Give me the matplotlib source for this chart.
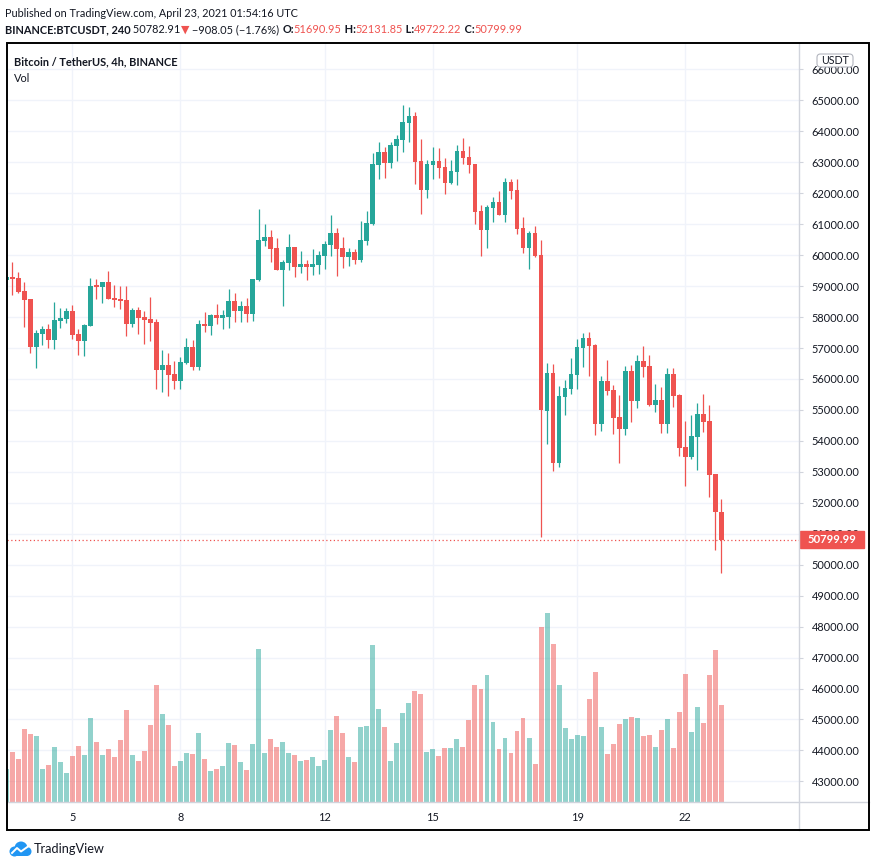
import numpy as np
import pandas as pd
import matplotlib
matplotlib.use("Agg")
import matplotlib.pyplot as plt
import matplotlib.transforms as mtrans
from matplotlib.patches import Rectangle, FancyBboxPatch, Circle
from matplotlib.lines import Line2D

# BTCUSDT 4h candles, Binance, 2021-04-03 04:00 .. 2021-04-23 00:00 (UTC)
opens = [59209, 59305, 59263, 58843, 58585, 57044, 57464, 57616, 57270, 57884,
         57948, 58197, 57454, 57237, 57722, 59037, 58982, 59134, 58617, 58585,
         58553, 57787, 58229, 58003, 57939, 57842, 56301, 56452, 56162, 55945,
         56527, 57034, 56398, 57777, 57722, 58068, 57981, 58013, 58520, 58207,
         58359, 58110, 59199, 60459, 60588, 60233, 59522, 59758, 60265, 59619,
         59716, 59619, 59683, 59974, 60330, 60717, 60233, 59942, 60103, 59845,
         60459, 61008, 62924, 63334, 62989, 63538, 63732, 64281, 64498, 63043,
         62116, 62914, 63043, 62850, 62342, 62698, 63367, 63173, 62947, 61428,
         60824, 61535, 61719, 61309, 62368, 62107, 60879, 60242, 60717, 60006,
         54976, 56194, 53296, 55428, 55677, 56139, 57012, 57325, 57099, 54556,
         55935, 55645, 54772, 54394, 56259, 55299, 56582, 56420, 55170, 55322,
         54556, 56162, 55483, 53803, 53490, 54136, 54869, 54643, 52931, 51690.95]
highs = [59328, 59780, 59457, 59134, 58600, 57583, 57712, 57777, 58488, 58294,
         58294, 58391, 57616, 57777, 59263, 59231, 59140, 59490, 59037, 59005,
         59005, 58294, 58326, 58197, 58650, 57939, 56947, 56850, 56591, 56720,
         57334, 57270, 57916, 58165, 58100, 58423, 58229, 58908, 58779, 58520,
         58617, 59240, 61493, 61008, 60814, 60556, 59845, 60685, 60280, 60136,
         59845, 60200, 60136, 60459, 61299, 60879, 60588, 60233, 60200, 61105,
         61428, 63302, 63657, 63496, 63657, 63884, 64853, 64798, 64627, 63754,
         63076, 63496, 63464, 63141, 63076, 63560, 63787, 63528, 62960, 61622,
         61622, 61880, 62074, 62494, 62462, 62462, 61234, 60782, 60943, 60491,
         56527, 56485, 55774, 55968, 56678, 57292, 57486, 57519, 57141, 56097,
         56614, 55806, 55483, 56420, 56452, 56775, 57066, 56775, 55839, 55742,
         56356, 56356, 55500, 54653, 54847, 55225, 55515, 55160, 52945, 52131.85]
lows = [59166, 58724, 58788, 57690, 56850, 56365, 57108, 57011, 56979, 57658,
        57819, 57302, 56785, 56753, 57700, 58595, 58465, 58590, 58336, 58271,
        57399, 57690, 57464, 57141, 57237, 55687, 55590, 55460, 55687, 55687,
        56494, 56301, 56301, 57528, 57431, 57787, 57625, 57658, 57851, 57851,
        57851, 57884, 59170, 60297, 59780, 59510, 58359, 59522, 59296, 59425,
        59199, 59360, 59393, 59554, 59974, 59328, 59587, 59651, 59716, 59780,
        60330, 60990, 62462, 62504, 62827, 63053, 63344, 63667, 62301, 61331,
        61858, 62472, 62504, 61987, 62301, 62278, 62956, 62653, 61018, 59984,
        60242, 61082, 61300, 61082, 61826, 60695, 60081, 59564, 59952, 50895,
        53910, 53037, 53166, 54847, 55515, 55677, 56398, 56107, 54200, 54330,
        55493, 54233, 53296, 54200, 54620, 55073, 56075, 55137, 54944, 54265,
        54265, 55105, 53522, 52553, 53425, 53069, 54297, 52197, 50475, 49722.22]
closes = [59286, 59241, 58821, 58562, 57044, 57486, 57616, 57270, 57906, 57971,
          58197, 57431, 57237, 57745, 59005, 58982, 59134, 58595, 58562, 58530,
          57787, 58229, 57981, 57916, 57819, 56301, 56452, 56139, 55945, 56549,
          57034, 56398, 57777, 57712, 58068, 57981, 58068, 58520, 58207, 58359,
          58110, 59231, 60491, 60588, 60200, 59522, 59780, 60265, 59619, 59716,
          59619, 59716, 60006, 60362, 60717, 60200, 59942, 60103, 59845, 60491,
          61040, 62946, 63334, 62989, 63560, 63754, 64304, 64498, 63011, 62116,
          62947, 63043, 62827, 62342, 62721, 63367, 63150, 62924, 61404, 60824,
          61557, 61719, 61309, 62368, 62084, 60856, 60242, 60717, 59974, 55008,
          56194, 53296, 55451, 55709, 56162, 57034, 57325, 57076, 54556, 55935,
          55622, 54750, 54394, 56259, 55299, 56582, 56398, 55170, 55322, 54556,
          56162, 55461, 53780, 53490, 54158, 54869, 54620, 52908, 51690.95, 50799.99]
volumes = [6174, 9387, 8064, 13734, 12789, 12411, 6174, 6930, 10332, 7497,
           5418, 8631, 10521, 8820, 15813, 11277, 8820, 9954, 8442, 11655,
           17325, 8820, 7686, 9576, 14490, 22050, 16569, 14490, 6741, 7686,
           9198, 9009, 12978, 8064, 5796, 6174, 6741, 11088, 10710, 7497,
           5985, 10899, 28854, 9198, 11844, 10332, 11277, 9198, 8820, 7686,
           7875, 8442, 6741, 7875, 13545, 16191, 12978, 8442, 7497, 14112,
           14301, 29610, 17514, 14112, 7686, 11088, 16758, 18648, 20916, 20349,
           9387, 9954, 8631, 10143, 10143, 11844, 10332, 15435, 22050, 21294,
           23940, 15057, 9954, 12033, 9198, 13356, 15813, 12033, 7119, 33012,
           35658, 29799, 22050, 13923, 11844, 12600, 12411, 19404, 24507, 14112,
           9009, 10899, 14679, 15624, 16002, 15813, 12411, 12600, 10332, 13545,
           15624, 10143, 16947, 24129, 13167, 17892, 14868, 23940, 28665, 18270]
tick_days = [5, 8, 12, 15, 19, 22]
price_ticks = list(range(43000, 67000, 1000))
last_price = 50799.99

W, H = 876, 867
GREEN = "#26a69a"
RED = "#ef5350"
TEXT = "#131722"
GRID = "#f0f3fa"
BORDER = "#d1d4dc"

plt.rcParams["font.family"] = ["Lato", "DejaVu Sans"]


def px(x, y):
    return x / W, 1 - y / H


o = np.array(opens, dtype=float)
h = np.array(highs, dtype=float)
l = np.array(lows, dtype=float)
c = np.array(closes, dtype=float)
times = pd.date_range("2021-04-03 04:00", periods=len(o), freq="4h")
x = np.arange(len(o))
colors = np.where(c >= o, GREEN, RED)

fig = plt.figure(figsize=(W / 100, H / 100), dpi=100)
fig.patch.set_facecolor("white")
r = fig.canvas.get_renderer()


def fit_size(s, target, weight="normal"):
    # font size that gives the text the wanted width in pixels
    t = fig.text(0, 0, s, fontsize=10, fontweight=weight)
    w = t.get_window_extent(renderer=r).width
    t.remove()
    return 10 * target / w


ax = fig.add_axes([6.5 / W, 1 - 802 / H, (799.3 - 6.5) / W, (802 - 43.3) / H])
ax.set_xlim(0.05, 131.97)
ax.set_ylim(42333, 66846)

# candles
ax.vlines(x, l, h, colors=colors, lw=0.9, zorder=3)
ax.bar(x, np.maximum(np.abs(c - o), 35), bottom=np.minimum(o, c), width=0.78,
       color=colors, lw=0, zorder=3)
ax.axhline(last_price, color=RED, lw=0.9, ls=(0, (1, 2)), zorder=2)

# volume
ax2 = ax.twinx()
ax2.set_ylim(0, 143400)
ax2.bar(x, volumes, width=0.82, color=colors, alpha=0.5, lw=0)
ax2.axis("off")

# axes styling
tick_fs = fit_size("65000.00", 47)
for s in ax.spines.values():
    s.set_visible(False)
ax.yaxis.tick_right()
ax.set_yticks(price_ticks)
ax.set_yticklabels([f"{v:.2f}" for v in price_ticks])
day_pos = [(pd.Timestamp(2021, 4, d) - times[0]) / pd.Timedelta("4h") for d in tick_days]
ax.set_xticks(day_pos)
ax.set_xticklabels([str(d) for d in tick_days])
ax.tick_params(axis="y", which="both", left=False, right=True, labelleft=False, labelright=True,
               length=3, color=BORDER, pad=6, labelsize=tick_fs, labelcolor=TEXT)
ax.tick_params(axis="x", length=0, pad=7, labelsize=tick_fs, labelcolor=TEXT)
ax.grid(True, color=GRID, lw=1, zorder=0)
ax.set_axisbelow(True)

# last price tag
bt = mtrans.blended_transform_factory(fig.transFigure, ax.transData)
ax.add_patch(Rectangle((800 / W, last_price - 275), 64 / W, 550, transform=bt,
                       color=RED, clip_on=False, zorder=6))
ax.text(832 / W, last_price, f"{last_price:.2f}", transform=bt, color="white",
        fontsize=fit_size("50799.99", 49, "bold"), fontweight="bold", ha="center", va="center",
        zorder=7, clip_on=False)

# USDT box
fig.add_artist(FancyBboxPatch(px(817, 67), 36 / W, 13 / H, boxstyle="round,pad=0,rounding_size=0.004",
                              transform=fig.transFigure, fc="white", ec="#b2b5be", lw=0.8, zorder=6))
fig.text(*px(835, 60.5), "USDT", fontsize=fit_size("USDT", 28), color=TEXT, ha="center", va="center",
         zorder=7)

# frame and separators
fig.add_artist(Rectangle(px(6.5, 830), (869.3 - 6.5) / W, (830 - 43.3) / H, fill=False,
                         ec="black", lw=1.4, transform=fig.transFigure, zorder=8))
fig.add_artist(Line2D([799.3 / W] * 2, [1 - 43.3 / H, 1 - 830 / H], color=BORDER, lw=1,
                      transform=fig.transFigure))
fig.add_artist(Line2D([6.5 / W, 869.3 / W], [1 - 802 / H] * 2, color=BORDER, lw=1,
                      transform=fig.transFigure))

# legend texts inside the chart
title = "Bitcoin / TetherUS, 4h, BINANCE"
title_fs = fit_size(title, 164, "bold")
fig.text(*px(13.5, 61.5), title, fontsize=title_fs, fontweight="bold", color=TEXT, va="center")
fig.text(*px(13.5, 78), "Vol", fontsize=title_fs, color=TEXT, va="center")

# header
line1 = "Published on TradingView.com, April 23, 2021 01:54:16 UTC"
fig.text(*px(4.7, 13.5), line1, fontsize=fit_size(line1, 292), color=TEXT, va="center")
pieces = [("BINANCE:BTCUSDT, 240", "bold", TEXT), (" 50782.91", "normal", TEXT),
          ("▼", "normal", RED), (" \u2212908.05 (\u22121.76%) ", "normal", TEXT),
          ("O:", "bold", TEXT), ("51690.95", "normal", RED),
          (" H:", "bold", TEXT), ("52131.85", "normal", RED),
          (" L:", "bold", TEXT), ("49722.22", "normal", RED),
          (" C:", "bold", TEXT), ("50799.99", "normal", RED)]
total = 0
for s, w, col in pieces:
    t = fig.text(0, 0, s, fontsize=10, fontweight=w)
    total += t.get_window_extent(renderer=r).width
    t.remove()
line2_fs = 10 * (521.7 - 4.7) / total
xp = 4.7
for s, w, col in pieces:
    t = fig.text(*px(xp, 29.5), s, fontsize=line2_fs, fontweight=w, color=col, va="center")
    xp += t.get_window_extent(renderer=r).width

# TradingView logo
lax = fig.add_axes([8 / W, 1 - 858 / H, 24 / W, 18 / H])
lax.set_xlim(0, 24)
lax.set_ylim(0, 18)
lax.axis("off")
for cx, cy, rr in [(6.5, 6.5, 5), (13, 10, 6.5), (19, 6.5, 4.5)]:
    lax.add_patch(Circle((cx, cy), rr, color="#2196f3", lw=0))
lax.add_patch(Rectangle((6.5, 2), 12.5, 6, color="#2196f3", lw=0))
lax.plot([4, 9, 13, 20], [5, 10, 6.5, 11.5], color="white", lw=1.4)
fig.text(*px(33.5, 849), "TradingView", fontsize=fit_size("TradingView", 71), color=TEXT, va="center")

fig.savefig("out.png", dpi=100)
